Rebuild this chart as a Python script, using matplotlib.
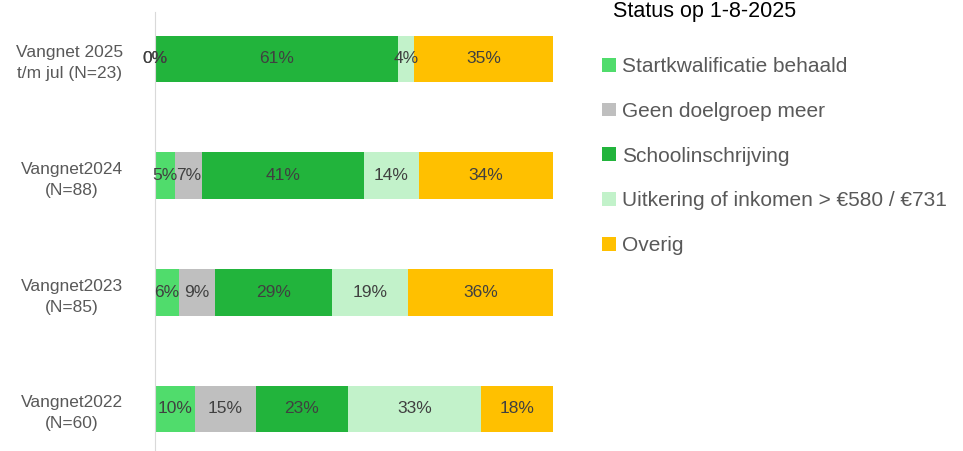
import matplotlib.pyplot as plt
import numpy as np

# data (percentages per year)
rows = ["Vangnet2022\n(N=60)", "Vangnet2023\n(N=85)", "Vangnet2024\n(N=88)",
        "Vangnet 2025\nt/m jul (N=23)"]
categories = ["Startkwalificatie behaald", "Geen doelgroep meer", "Schoolinschrijving",
              "Uitkering of inkomen > €580 / €731", "Overig"]
startkwalificatie = [10, 6, 5, 0]
geen_doelgroep = [15, 9, 7, 0]
school = [23, 29, 41, 61]
uitkering = [33, 19, 14, 4]
overig = [18, 36, 34, 35]

colors = ["#50DC6C", "#BFBFBF", "#22B43C", "#C2F2CA", "#FFC000"]

plt.rcParams['font.family'] = ['Liberation Sans', 'DejaVu Sans']

values = np.array([startkwalificatie, geen_doelgroep, school, uitkering, overig], dtype=float)
# rounded percentages don't always add up to 100, so scale each bar to full width
shares = values / values.sum(axis=0) * 100

W, H = 963, 451
fig = plt.figure(figsize=(W / 100, H / 100), dpi=100)
ax = fig.add_axes([155 / W, 0, (553 - 155) / W, 1])

y = np.arange(len(rows))
left = np.zeros(len(rows))
for i, cat in enumerate(categories):
    ax.barh(y, shares[i], left=left, height=0.4, color=colors[i], label=cat, linewidth=0)
    for j in range(len(rows)):
        ax.text(left[j] + shares[i][j] / 2, y[j], f"{int(values[i][j])}%",
                ha="center", va="center", fontsize=12.5, color="#404040")
    left += shares[i]

ax.set_xlim(0, 100)
ax.set_ylim(-0.36, 3.505)
ax.set_xticks([])
ax.set_yticks(y)
ax.set_yticklabels(rows, multialignment="center", fontsize=12.5, color="#595959",
                   linespacing=1.5)
ax.tick_params(axis="y", length=0, pad=23)
for s in ["top", "right", "bottom"]:
    ax.spines[s].set_visible(False)
ax.spines["left"].set_color("#D9D9D9")
ax.spines["left"].set_bounds(-0.36, 3.40)

fig.text(613 / W, 1 - 17 / H, "Status op 1-8-2025", fontsize=15.5, color="black",
         ha="left", va="baseline")
leg = fig.legend(loc="upper left", bbox_to_anchor=(602 / W, 1 - 57 / H), frameon=False,
                 fontsize=15, labelspacing=1.24, handlelength=0.65, handleheight=0.65,
                 handletextpad=0.3, borderpad=0, borderaxespad=0)
for t in leg.get_texts():
    t.set_color("#595959")

plt.savefig("out.png", dpi=100)
